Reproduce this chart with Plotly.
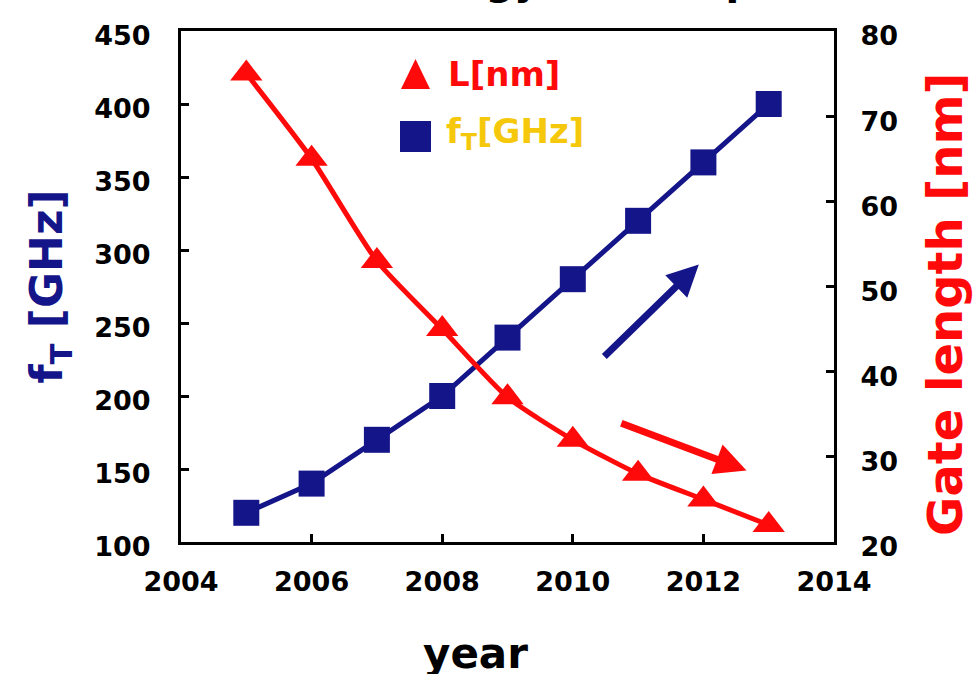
import plotly.graph_objects as go

years = [2005, 2006, 2007, 2008, 2009, 2010, 2011, 2012, 2013]
ft_ghz = [120, 140, 170, 200, 240, 280, 320, 360, 400]
gate_nm = [75, 65, 53, 45, 37, 32, 28, 25, 22]

x_ticks = [2004, 2006, 2008, 2010, 2012, 2014]
y1_ticks = [100, 150, 200, 250, 300, 350, 400, 450]
y2_ticks = [20, 30, 40, 50, 60, 70, 80]

NAVY = "#15158a"
RED = "#ff0a0a"
GOLD = "#f5c80c"
FONT = "DejaVu Sans"

W, H = 975, 674
ML, MR, MT, MB = 181, 141, 31, 132
PW, PH = W - ML - MR, H - MT - MB


def px(x):  # pixel -> paper x
    return (x - ML) / PW


def py(y):  # pixel -> paper y
    return (H - MB - y) / PH


fig = go.Figure()
fig.add_trace(go.Scatter(
    x=years, y=ft_ghz, mode="lines+markers", showlegend=False,
    line=dict(color=NAVY, width=5),
    marker=dict(symbol="square", size=26, color=NAVY),
))
fig.add_trace(go.Scatter(
    x=years, y=gate_nm, mode="lines+markers", showlegend=False, yaxis="y2",
    line=dict(color=RED, width=5, shape="spline", smoothing=0.6),
    marker=dict(symbol="triangle-up", size=28, color=RED),
))

# legend glyphs (layout decoration) + texts
fig.add_shape(type="path", xref="paper", yref="paper", line_width=0,
              fillcolor=RED,
              path="M %f %f L %f %f L %f %f Z" % (px(401), py(89), px(430), py(89), px(415.5), py(59)))
fig.add_shape(type="rect", xref="paper", yref="paper", line_width=0,
              fillcolor=NAVY, x0=px(400), x1=px(431), y0=py(152), y1=py(121))
fig.add_annotation(x=px(446), y=py(74), xref="paper", yref="paper",
                   xanchor="left", yanchor="middle", showarrow=False,
                   text="<b>L[nm]</b>", font=dict(family=FONT, size=34, color=RED))
fig.add_annotation(x=px(444), y=py(133), xref="paper", yref="paper",
                   xanchor="left", yanchor="middle", showarrow=False,
                   text="<b>f<sub>T</sub>[GHz]</b>", font=dict(family=FONT, size=34, color=GOLD))

# trend arrows (data coordinates)
fig.add_annotation(x=2011.93, y=290, ax=2010.46, ay=226, xref="x", yref="y",
                   axref="x", ayref="y", text="", showarrow=True,
                   arrowhead=2, arrowsize=0.9, arrowwidth=7, arrowcolor=NAVY)
fig.add_annotation(x=2012.66, y=28.4, ax=2010.72, ay=34, xref="x", yref="y2",
                   axref="x", ayref="y2", text="", showarrow=True,
                   arrowhead=2, arrowsize=0.9, arrowwidth=7, arrowcolor=RED)

# cut-off title at the top
fig.add_annotation(x=0.88, y=1.0, xref="paper", yref="paper", yshift=26,
                   xanchor="right", yanchor="bottom", showarrow=False,
                   text="<b>HEMT technology roadmap</b>",
                   font=dict(family=FONT, size=40, color="black"))

# axis titles
fig.add_annotation(x=px(475), y=0, xref="paper", yref="paper", yshift=-85,
                   yanchor="top", showarrow=False, text="<b>year</b>",
                   font=dict(family=FONT, size=42, color="black"))
fig.add_annotation(x=px(975), y=py(305), xref="paper", yref="paper",
                   textangle=-90, showarrow=False,
                   text="<b>Gate length [nm]</b>",
                   font=dict(family=FONT, size=48, color=RED))

tickfont = dict(family=FONT, size=27, color="black", weight="bold")
common = dict(ticks="inside", ticklen=8, tickwidth=3, tickcolor="black",
              showline=True, linewidth=3, linecolor="black",
              showgrid=False, zeroline=False, tickfont=tickfont,
              automargin=False)
fig.update_layout(
    width=W, height=H,
    margin=dict(l=ML, r=MR, t=MT, b=MB),
    paper_bgcolor="white", plot_bgcolor="white",
    font=dict(family=FONT),
    showlegend=False,
    xaxis=dict(range=[2004, 2014], tickvals=x_ticks, mirror=True,
               ticklabelstandoff=14, **common),
    yaxis=dict(range=[100, 450], tickvals=y1_ticks, ticklabelstandoff=22,
               ticklabelshift=5,
               title=dict(text="<b>f<sub>T</sub> [GHz]</b>", standoff=18,
                          font=dict(family=FONT, size=44, color=NAVY)),
               **common),
    yaxis2=dict(range=[20, 80], tickvals=y2_ticks, overlaying="y", side="right",
                ticklabelstandoff=18, ticklabelshift=5, **common),
)

fig.write_html("out.html", config={"displayModeBar": False},
               post_script="document.body.style.margin='0px';")
